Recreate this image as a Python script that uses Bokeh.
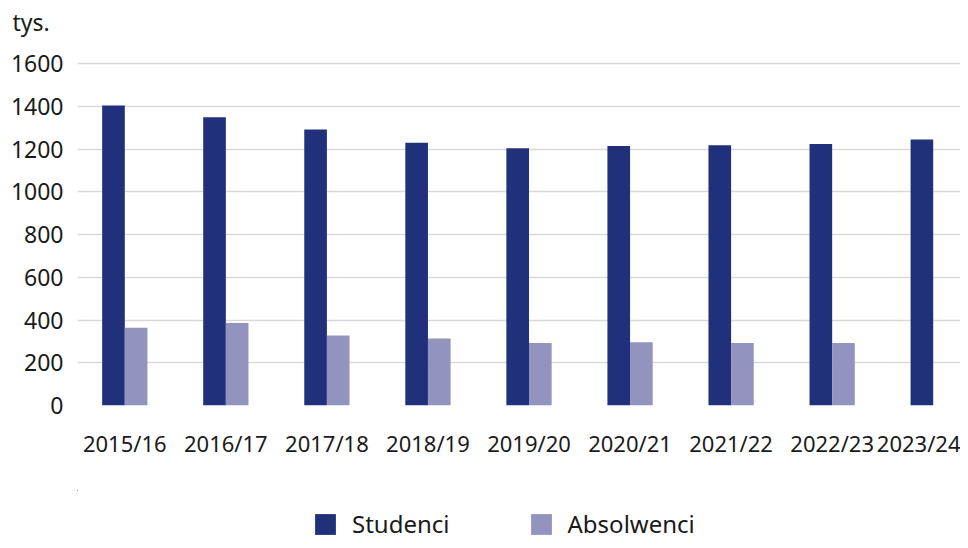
from bokeh.plotting import figure
from bokeh.models import (ColumnDataSource, Range1d, FixedTicker, Legend, LegendItem)
from bokeh.layouts import column
from bokeh.transform import dodge
from bokeh.embed import file_html
from bokeh.resources import INLINE

years = ["2015/16", "2016/17", "2017/18", "2018/19", "2019/20",
         "2020/21", "2021/22", "2022/23", "2023/24"]
studenci = [1403, 1348, 1291, 1229, 1204, 1214, 1218, 1223, 1245]
absolwenci = [364, 386, 328, 314, 292, 296, 292, 292, float("nan")]
y_ticks = [0, 200, 400, 600, 800, 1000, 1200, 1400, 1600]
series_names = ["Studenci", "Absolwenci"]

FONT = "Noto Sans"
DARK = "#21307A"
LIGHT = "#9293BF"
TXT = "#1a1a1a"

src = ColumnDataSource(dict(x=list(range(len(years))), s=studenci, a=absolwenci))

# frame spans 39..405 px; the range top is chosen so the 1600 line sits at 63 px
p = figure(width=960, height=490, output_backend="svg", toolbar_location=None,
           x_range=Range1d(-0.468, 8.27), y_range=Range1d(0, 1600 * 366 / 342),
           min_border_left=77, min_border_right=0, min_border_top=39,
           min_border_bottom=85, outline_line_color=None)

bw = 0.224
p.vbar(x=dodge("x", -bw / 2, range=p.x_range), top="s", width=bw, source=src,
       fill_color=DARK, line_color=None)
p.vbar(x=dodge("x", bw / 2, range=p.x_range), top="a", width=bw, source=src,
       fill_color=LIGHT, line_color=None)

# axes
p.xaxis.ticker = FixedTicker(ticks=list(range(len(years))))
p.xaxis.major_label_overrides = {i: y for i, y in enumerate(years)}
p.yaxis.ticker = FixedTicker(ticks=y_ticks)
for ax in (p.xaxis[0], p.yaxis[0]):
    ax.axis_line_color = None
    ax.major_tick_line_color = None
    ax.minor_tick_line_color = None
    ax.major_tick_out = 0
    ax.major_tick_in = 0
    ax.major_label_text_font = FONT
    ax.major_label_text_color = TXT
p.xaxis.major_label_text_font_size = "22px"
p.yaxis.major_label_text_font_size = "23px"
p.yaxis.major_label_standoff = 14
p.xaxis.major_label_standoff = 22

p.xgrid.grid_line_color = None
p.ygrid.grid_line_color = "#D9D9D9"
p.ygrid.grid_line_width = 1.5

# title as unit label
p.title.text = "tys."
p.title.align = "left"
p.title.vertical_align = "bottom"
p.title.offset = -65
p.title.text_font = FONT
p.title.text_font_size = "23px"
p.title.text_font_style = "normal"
p.title.text_color = TXT
p.title.standoff = 4

# legend strip (zero-height renderers outside this strip's ranges; only legend shows)
lg = figure(width=960, height=50, output_backend="svg", toolbar_location=None,
            x_range=Range1d(100, 101), y_range=Range1d(-2, -1),
            x_axis_location=None, y_axis_location=None, outline_line_color=None,
            min_border=0)
lg.xgrid.grid_line_color = None
lg.ygrid.grid_line_color = None
g1 = lg.vbar(x="x", top="s", bottom="s", width=bw, source=src,
             fill_color=DARK, line_color=None)
g2 = lg.vbar(x="x", top="a", bottom="a", width=bw, source=src,
             fill_color=LIGHT, line_color=None)

legend = Legend(items=[LegendItem(label=series_names[0], renderers=[g1]),
                       LegendItem(label=series_names[1], renderers=[g2])],
                orientation="horizontal", location=(235, 0),
                glyph_width=26, glyph_height=26, label_standoff=14, spacing=78,
                padding=0, margin=0, border_line_color=None,
                background_fill_alpha=0,
                label_text_font=FONT, label_text_font_size="24px",
                label_text_color=TXT)
lg.add_layout(legend, "center")

open("out.html", "w").write(file_html(column(p, lg), INLINE))
